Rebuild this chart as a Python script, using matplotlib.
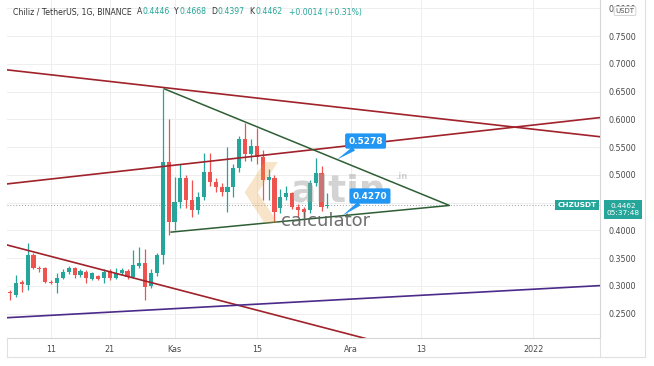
import matplotlib.pyplot as plt
import matplotlib.dates as mdates
import numpy as np
import pandas as pd

# daily CHZ/USDT candles, Oct 4 2021 onwards
start_date = '2021-10-04'
opens = [0.290, 0.284, 0.307, 0.302, 0.356, 0.332, 0.332, 0.308, 0.305, 0.315,
         0.325, 0.333, 0.320, 0.325, 0.313, 0.318, 0.314, 0.327, 0.315, 0.324,
         0.327, 0.317, 0.336, 0.342, 0.300, 0.323, 0.356, 0.523, 0.415, 0.452,
         0.495, 0.455, 0.437, 0.460, 0.505, 0.487, 0.478, 0.470, 0.478, 0.512,
         0.565, 0.538, 0.552, 0.533, 0.490, 0.495, 0.440, 0.460, 0.467, 0.442,
         0.438, 0.437, 0.485, 0.503, 0.4446]
highs = [0.292, 0.320, 0.310, 0.378, 0.360, 0.336, 0.334, 0.310, 0.323, 0.330,
         0.336, 0.335, 0.330, 0.328, 0.326, 0.320, 0.330, 0.330, 0.333, 0.332,
         0.330, 0.365, 0.370, 0.366, 0.330, 0.360, 0.655, 0.600, 0.497, 0.520,
         0.500, 0.490, 0.470, 0.540, 0.540, 0.495, 0.485, 0.550, 0.520, 0.570,
         0.593, 0.565, 0.585, 0.545, 0.510, 0.500, 0.475, 0.480, 0.470, 0.448,
         0.442, 0.490, 0.530, 0.516, 0.4668]
lows = [0.275, 0.280, 0.290, 0.293, 0.330, 0.326, 0.305, 0.304, 0.287, 0.312,
        0.322, 0.315, 0.316, 0.305, 0.310, 0.311, 0.305, 0.311, 0.312, 0.320,
        0.313, 0.315, 0.333, 0.275, 0.296, 0.318, 0.340, 0.392, 0.400, 0.440,
        0.440, 0.425, 0.430, 0.455, 0.480, 0.470, 0.462, 0.433, 0.460, 0.505,
        0.525, 0.525, 0.520, 0.455, 0.455, 0.415, 0.432, 0.455, 0.438, 0.425,
        0.425, 0.432, 0.480, 0.435, 0.4397]
closes = [0.287, 0.305, 0.303, 0.356, 0.332, 0.330, 0.307, 0.306, 0.314, 0.326,
          0.332, 0.320, 0.327, 0.314, 0.323, 0.313, 0.325, 0.314, 0.323, 0.328,
          0.317, 0.338, 0.342, 0.298, 0.323, 0.356, 0.523, 0.415, 0.452, 0.495,
          0.455, 0.437, 0.460, 0.505, 0.487, 0.478, 0.470, 0.478, 0.512, 0.565,
          0.538, 0.552, 0.533, 0.490, 0.496, 0.433, 0.460, 0.467, 0.442, 0.437,
          0.434, 0.485, 0.503, 0.443, 0.4462]
last_price = 0.4462

# drawn trend lines (date, price) endpoints
red_down_dates = ['2021-10-02', '2022-01-13']
red_down_vals = [0.691, 0.568]
red_up_dates = ['2021-10-02', '2022-01-13']
red_up_vals = [0.482, 0.604]
red_low_dates = ['2021-10-02', '2021-12-04']
red_low_vals = [0.378, 0.204]
purple_dates = ['2021-10-02', '2022-01-13']
purple_vals = [0.242, 0.301]
tri_dates = ['2021-10-30 06:00', '2021-12-17 18:00', '2021-10-31 10:00']
tri_vals = [0.655, 0.445, 0.397]

tick_dates = ['2021-10-11', '2021-10-21', '2021-11-01', '2021-11-15',
              '2021-12-01', '2021-12-13', '2022-01-01']
tick_labels = ['11', '21', 'Kas', '15', 'Ara', '13', '2022']
price_ticks = np.arange(0.25, 0.801, 0.05)

UP = '#26a69a'
DOWN = '#ef5350'
TXT = '#4a4a4a'

dates = mdates.date2num(pd.date_range(start_date, periods=len(opens), freq='D'))
o = np.array(opens); c = np.array(closes)
h = np.array(highs); l = np.array(lows)
cols = np.where(c >= o, UP, DOWN)

W, H = 654, 366
fig = plt.figure(figsize=(W / 100, H / 100), dpi=100)
ax = fig.add_axes([7 / W, (H - 338) / H, 593 / W, 338 / H])

ax.vlines(dates, l, h, colors=cols, linewidth=0.9, zorder=3)
body = np.maximum(np.abs(c - o), 0.0015)
ax.bar(dates, body, bottom=np.minimum(o, c), width=0.7, color=cols,
       linewidth=0, zorder=4)

def d(lst):
    return mdates.date2num(pd.to_datetime(lst))

ax.plot(d(red_down_dates), red_down_vals, color='#a0222a', lw=1.2, zorder=5)
ax.plot(d(red_up_dates), red_up_vals, color='#a0222a', lw=1.2, zorder=5)
ax.plot(d(red_low_dates), red_low_vals, color='#a0222a', lw=1.2, zorder=5)
ax.plot(d(purple_dates), purple_vals, color='#4b2a8a', lw=1.2, zorder=5)
ax.plot(d(tri_dates), tri_vals, color='#2e5e34', lw=1.1, zorder=5)

# current price line
ax.axhline(last_price, color='#9aa0a6', lw=0.7, ls=(0, (1, 2)), zorder=2)

# watermark
ax.text(0.478, 0.405, 'altin', transform=ax.transAxes, fontsize=27,
        fontweight='bold', color='#9e9e9e', alpha=0.45, zorder=6)
ax.text(0.655, 0.47, '.in', transform=ax.transAxes, fontsize=6,
        fontweight='bold', color='#9e9e9e', alpha=0.45, zorder=6)
ax.text(0.462, 0.33, 'calculator', transform=ax.transAxes, fontsize=13,
        color='#5f5f5f', alpha=0.9, zorder=6)
ax.text(0.385, 0.385, '\u276E', transform=ax.transAxes, fontsize=44,
        fontweight='bold', color='#e8a040', alpha=0.28, zorder=6)

# callouts
for tip, box, txt in [(('2021-11-28 16:00', 0.5278), ('2021-12-03 12:00', 0.561), '0.5278'),
                      (('2021-11-29 14:00', 0.4270), ('2021-12-04 06:00', 0.462), '0.4270')]:
    ax.annotate(txt, xy=(d([tip[0]])[0], tip[1]), xytext=(d([box[0]])[0], box[1]),
                ha='center', va='center', color='white', fontsize=6.5,
                fontweight='bold', zorder=8,
                bbox=dict(boxstyle='round,pad=0.35,rounding_size=0.2',
                          fc='#2196f3', ec='none'),
                arrowprops=dict(arrowstyle='wedge,tail_width=0.5', fc='#2196f3',
                                ec='none', shrinkA=0, shrinkB=0))

ax.set_xlim(d(['2021-10-03 12:00'])[0], d(['2022-01-12 09:00'])[0])
ax.set_ylim(0.2063, 0.815)

ax.set_xticks(d(tick_dates))
ax.set_xticklabels(tick_labels)
ax.yaxis.tick_right()
ax.set_yticks(price_ticks)
# the 0.4500 label sits under the last-price tag
ax.set_yticklabels(['' if abs(v - 0.45) < 1e-6 else '%.4f' % v for v in price_ticks])
ax.tick_params(axis='both', length=0, labelsize=5.8, colors=TXT)
ax.tick_params(axis='x', pad=5)
ax.tick_params(axis='y', pad=6)
ax.grid(True, color='#eeeeee', lw=0.7, zorder=0)
for s in ['top', 'left']:
    ax.spines[s].set_visible(False)
for s in ['bottom', 'right']:
    ax.spines[s].set_color('#d6d6d6')
    ax.spines[s].set_linewidth(0.8)

# frame around time scale
fig.add_artist(plt.Line2D([7 / W, 645 / W], [1 - 357 / H] * 2, color='#e0e0e0', lw=0.8))
fig.add_artist(plt.Line2D([645 / W] * 2, [1 - 357 / H, 1], color='#e0e0e0', lw=0.8))
fig.add_artist(plt.Line2D([7 / W] * 2, [1 - 357 / H, 1 - 338 / H], color='#e0e0e0', lw=0.8))
fig.add_artist(plt.Line2D([600 / W] * 2, [1 - 357 / H, 1 - 338 / H], color='#e0e0e0', lw=0.8))

# header, pieces chained one after another
hy = 1 - 12 / H
prev = fig.text(13 / W, hy, 'Chiliz / TetherUS, 1G, BINANCE', fontsize=5.6,
                color='#333333', va='center')
parts = [('A', '0.4446'), ('Y', '0.4668'), ('D', '0.4397'), ('K', '0.4462')]
for k, v in parts:
    prev = ax.annotate(k, xy=(1, 0.5), xycoords=prev, xytext=(3.5, 0),
                       textcoords='offset points', va='center', fontsize=5.6,
                       color='#333333', annotation_clip=False)
    prev = ax.annotate(v, xy=(1, 0.5), xycoords=prev, xytext=(0.3, 0),
                       textcoords='offset points', va='center', fontsize=5.6,
                       color=UP, annotation_clip=False)
ax.annotate('+0.0014 (+0.31%)', xy=(1, 0.5), xycoords=prev, xytext=(5, 0),
            textcoords='offset points', va='center', fontsize=5.6, color=UP,
            annotation_clip=False)

# right-side labels
fig.text(577 / W, 1 - 205 / H, 'CHZUSDT', fontsize=5.3, color='white', fontweight='bold',
         ha='center', va='center',
         bbox=dict(boxstyle='square,pad=0.3', fc=UP, ec='none'))
fig.text(623 / W, 1 - 209.5 / H, '0.4462\n05:37:48', fontsize=5.3, color='white',
         ha='center', va='center', linespacing=1.2,
         bbox=dict(boxstyle='square,pad=0.35', fc=UP, ec='none'))
fig.text(625 / W, 1 - 11 / H, 'USDT', fontsize=5.0, color='#555555', ha='center', va='center',
         zorder=10,
         bbox=dict(boxstyle='round,pad=0.2,rounding_size=0.15', fc='white', ec='#cccccc', lw=0.6))

fig.savefig('out.png', dpi=100)
